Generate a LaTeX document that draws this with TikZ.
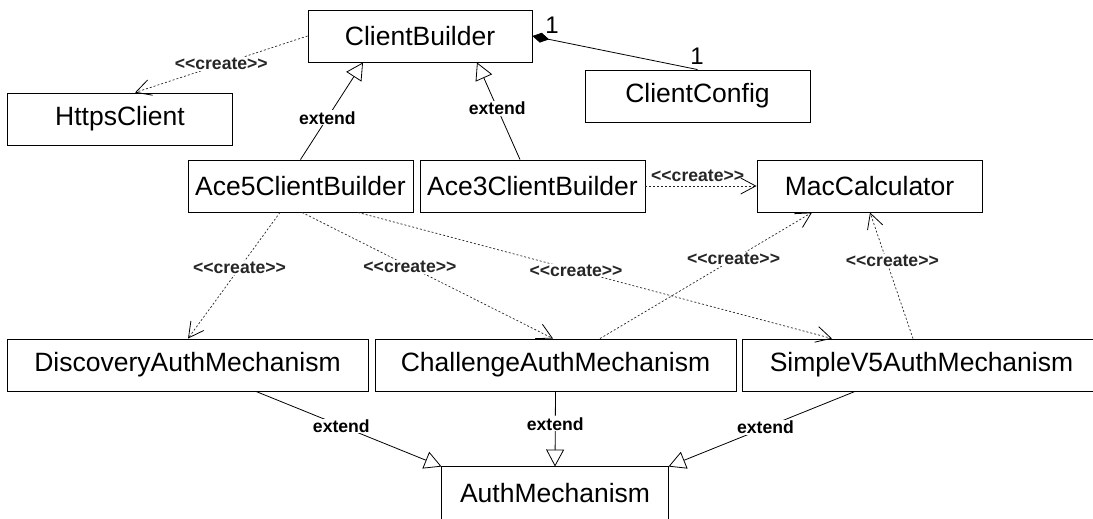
\documentclass[tikz,border=0pt]{standalone}
\usepackage{fontspec}
\setmainfont{Liberation Sans}[Ligatures=TeXOff]
\usetikzlibrary{arrows.meta}
\begin{document}
\begin{tikzpicture}[x=1pt,y=-1pt,
  box/.style={draw, line width=0.9pt, minimum height=52pt, inner sep=0pt,
    font=\fontsize{26.5}{30}\selectfont},
  smallbox/.style={box, minimum width=225pt},
  bigbox/.style={box, minimum width=361pt},
  lbl/.style={fill=white, inner sep=1pt, font=\bfseries\fontsize{17.6}{19}\selectfont},
  mult/.style={inner sep=0pt, font=\fontsize{24}{26}\selectfont},
  createln/.style={line width=0.7pt, dash pattern=on 2pt off 2pt, black!85,
    -{Straight Barb[length=15pt,width=16pt,line width=0.8pt,black]}},
  extln/.style={line width=0.8pt, -{Triangle[length=17pt,width=18pt,fill=white,line width=0.8pt]}},
  compln/.style={line width=0.8pt, {Diamond[length=17pt,width=10pt]}-}
]
\useasboundingbox (0,0) rectangle (1093,519);

% class boxes
\node[smallbox, minimum width=224pt] (cb) at (420,36) {ClientBuilder};
\node[smallbox] (hc) at (120,119) {HttpsClient};
\node[smallbox] (cc) at (697.5,96) {ClientConfig};
\node[smallbox] (a5) at (300.5,186) {Ace5ClientBuilder};
\node[smallbox] (a3) at (532.5,186) {Ace3ClientBuilder};
\node[smallbox] (mc) at (869.5,186) {MacCalculator};
\node[bigbox] (da) at (187.5,365) {DiscoveryAuthMechanism};
\node[bigbox] (ca) at (555.5,365) {ChallengeAuthMechanism};
\node[bigbox, minimum width=359pt] (sa) at (921.5,365) {SimpleV5AuthMechanism};
\node[box, draw=none, minimum width=226pt] (am) at (555,493) {AuthMechanism};
\draw[line width=0.9pt] ([yshift=-12pt]am.south west) -- (am.north west)
  -- (am.north east) -- ([yshift=-12pt]am.south east);

% composition
\draw[compln] (cb.east) -- (cc.north);
\node[mult] (m1) at (552,25) {1};
\node[mult] (m2) at (697,56) {1};

% create dependencies
\draw[createln] (cb.west) -- node[lbl, pos=0.5] {<<create>>} ([xshift=15pt]hc.north);
\draw[createln] (a3.east) -- node[lbl, pos=0.47, above=3pt, fill=none] {<<create>>} (mc.west);
\draw[createln] ([xshift=-20.5pt]a5.south) -- node[lbl, pos=0.44] {<<create>>} ([xshift=0.5pt]da.north);
\draw[createln] ([xshift=1.5pt]a5.south) -- node[lbl, pos=0.43] {<<create>>} ([xshift=-2.5pt]ca.north);
\draw[createln] ([xshift=57.5pt]a5.south) -- node[lbl, pos=0.46] {<<create>>} ([xshift=-89.5pt]sa.north);
\draw[createln] ([xshift=44.5pt]ca.north) -- node[lbl, pos=0.63] {<<create>>} ([xshift=-57.5pt]mc.south);
\draw[createln] ([xshift=-8.5pt]sa.north) -- node[lbl, pos=0.62, xshift=6pt] {<<create>>} ([xshift=0.5pt]mc.south);

% extends
\draw[extln] (a5.north) -- node[lbl, pos=0.43] {extend} ([xshift=-57pt]cb.south);
\draw[extln] ([xshift=-12.5pt]a3.north) -- node[lbl, pos=0.53] {extend} ([xshift=57pt]cb.south);
\draw[extln] ([xshift=68.5pt]da.south) -- node[lbl, pos=0.46] {extend} (am.north west);
\draw[extln] (ca.south) -- node[lbl, pos=0.43] {extend} (am.north);
\draw[extln] ([xshift=-66.5pt]sa.south) -- node[lbl, pos=0.48] {extend} (am.north east);
\end{tikzpicture}
\end{document}
